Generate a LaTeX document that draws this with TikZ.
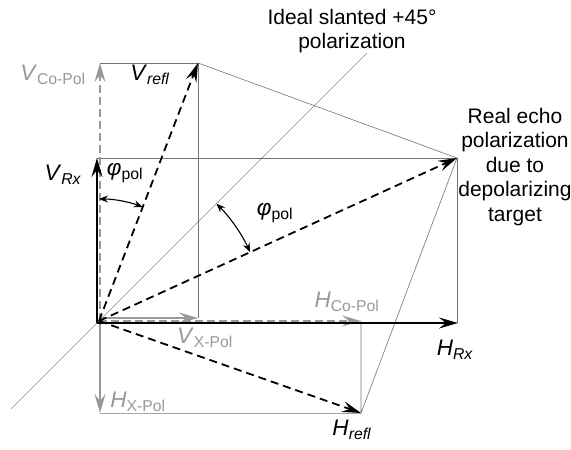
\documentclass[tikz,border=0pt]{standalone}
\usepackage{fontspec}
\setmainfont{Liberation Sans}
\usetikzlibrary{arrows.meta}

\newcommand{\veclab}[2]{\textit{#1}\textsubscript{#2}}

\begin{document}
\begin{tikzpicture}[x=1pt, y=1pt, font=\fontsize{21}{24.5}\selectfont,
    thinline/.style={line width=0.6pt, black!55},
    bigtip/.style={-{Stealth[length=19pt, width=11pt, inset=7pt]}},
    rxvec/.style={bigtip, line width=2.4pt},
    reflvec/.style={bigtip, line width=1.8pt, dash pattern=on 8pt off 5pt},
    polvec/.style={bigtip, line width=1.8pt, black!40},
    angarc/.style={line width=1.1pt, {Stealth[length=9pt, width=7pt, inset=3pt]}-{Stealth[length=9pt, width=7pt, inset=3pt]}},
    veclabel/.style={font=\fontsize{22.5}{26}\selectfont},
    greylab/.style={veclabel, black!40}]
    \useasboundingbox (-97,-127) rectangle (474,323);

    % points
    \coordinate (O) at (0,0);
    \coordinate (P) at (2,2);
    \coordinate (Vrx) at (0,165);
    \coordinate (Hrx) at (361,0);
    \coordinate (R) at (360,165);
    \coordinate (Vr) at (101,260);
    \coordinate (Hr) at (264,-90);
    \coordinate (Vco0) at (3,2);
    \coordinate (Vco) at (3,260);
    \coordinate (Hco) at (264,2);
    \coordinate (Vx0) at (3,5);
    \coordinate (Vx) at (101,5);
    \coordinate (Hx0) at (3,0);
    \coordinate (Hx) at (3,-90);
    \coordinate (Rfoot) at (360,0);
    \coordinate (Dlo) at (-86,-86);
    \coordinate (Dhi) at (270,270);

    % construction lines
    \draw[thinline] (Vco) -- (Vr) -- (Vx);
    \draw[thinline] (Vr) -- (R) -- (Hr) -- (Hco);
    \draw[thinline] (Vrx) -- (R) -- (Rfoot);
    \draw[thinline, black!35] (Hx) -- (Hr);
    \draw[line width=0.35pt, black!85] (Dlo) -- (Dhi);

    % co- and cross-polar parts
    \draw[polvec, dash pattern=on 8pt off 4pt] (Vco0) -- (Vco);
    \draw[polvec, dash pattern=on 8pt off 4pt] (P) -- (Hco);
    \draw[polvec] (Vx0) -- (Vx);
    \draw[polvec] (Hx0) -- (Hx);

    % receive axes
    \draw[rxvec] (O) -- (Vrx);
    \draw[rxvec] (O) -- (Hrx);

    % reflected vectors
    \draw[reflvec] (P) -- (Vr);
    \draw[reflvec] (P) -- (Hr);
    \draw[reflvec] (P) -- (R);

    % angles
    \draw[angarc] ([shift={(90:122)}]P) arc[start angle=90, end angle=69, radius=122];
    \draw[angarc] ([shift={(45:166)}]P) arc[start angle=45, end angle=24.5, radius=166];

    % labels
    \node[greylab] (lVco) at (-44,248) {\veclab{V}{Co-Pol}};
    \node[veclabel] (lVr) at (53,248) {\veclab{V}{\textit{refl}}};
    \node[veclabel] (lVrx) at (-34,148) {\veclab{V}{\textit{Rx}}};
    \node[veclabel] (lphia) at (28,150) {\veclab{φ}{pol}};
    \node[veclabel] (lphib) at (178,110) {\veclab{φ}{pol}};
    \node[greylab] (lHco) at (250,21) {\veclab{H}{Co-Pol}};
    \node[veclabel] (lHrx) at (358,-27) {\veclab{H}{\textit{Rx}}};
    \node[veclabel] (lHr) at (255,-107) {\veclab{H}{\textit{refl}}};
    \node[greylab] (lVx) at (108,-15) {\veclab{V}{X-Pol}};
    \node[greylab] (lHx) at (41,-79) {\veclab{H}{X-Pol}};
    \node[align=center] (ideal) at (255,292) {Ideal slanted +45°\\polarization};
    \node[align=center] (echo) at (418,156) {Real echo\\polarization\\due to\\depolarizing\\target};
\end{tikzpicture}
\end{document}
